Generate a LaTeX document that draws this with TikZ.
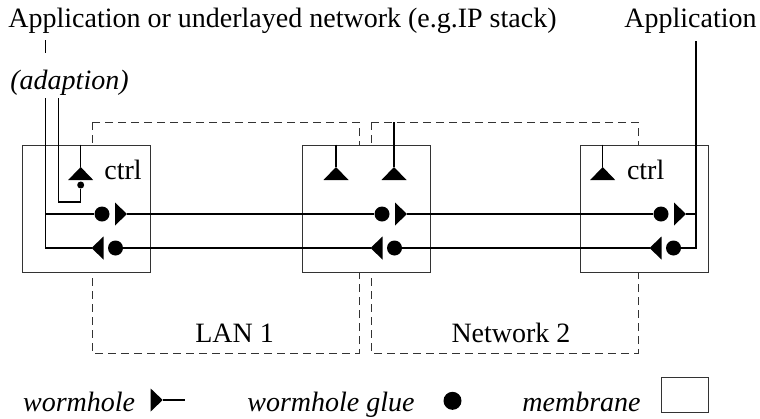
\documentclass[tikz,border=0pt]{standalone}
\usepackage{fontspec}
\setmainfont{Liberation Serif}
\tikzset{
	membrane/.style={draw=black!80,fill=white,line width=0.5pt,inner sep=0pt,minimum width=64pt,minimum height=63.5pt},
	glue/.style={circle,fill=black,inner sep=0pt,minimum size=7.5pt},
	net/.style={draw=black!80,line width=0.5pt,dash pattern=on 4pt off 2.5pt},
	wire/.style={line width=0.6pt},
	txt/.style={inner sep=0pt,font=\fontsize{14}{16}\selectfont}
}
\newcommand{\wormR}[1]{\fill (#1) -- ++(-6pt,5.75pt) -- ++(0pt,-11.5pt) -- cycle;}
\newcommand{\wormL}[1]{\fill (#1) -- ++(6pt,5.75pt) -- ++(0pt,-11.5pt) -- cycle;}
\newcommand{\wormU}[1]{\fill (#1) -- ++(6.25pt,6.5pt) -- ++(-12.5pt,0pt) -- cycle;}

\begin{document}
\begin{tikzpicture}[yscale=-1]
			\useasboundingbox (0pt,0pt) rectangle (380pt,209pt);
			\draw[net] (46pt,61pt) rectangle (179.5pt,176.5pt);
			\draw[net] (185.5pt,61pt) rectangle (319pt,176.5pt);
			\node[membrane] (memL) at (43pt,104.25pt) {};
			\node[membrane] (memM) at (183pt,104.25pt) {};
			\node[membrane] (memR) at (322pt,104.25pt) {};
			\node[txt,anchor=base west] (appL) at (4pt,13.5pt) {Application or underlayed network (e.g.IP stack)};
			\node[txt,anchor=base east] (appR) at (378.5pt,13.5pt) {Application};
			\node[txt,anchor=base west] (adapt) at (5pt,44.5pt) {\itshape (adaption)};
			\node[txt,anchor=base west] (ctrlL) at (52pt,89.5pt) {ctrl};
			\node[txt,anchor=base west] (ctrlR) at (313.3pt,89.5pt) {ctrl};
			\node[txt,anchor=base] (lan) at (117.3pt,171pt) {LAN 1};
			\node[txt,anchor=base] (net2) at (255.5pt,171pt) {Network 2};
			\node[glue] (gLt) at (51pt,107pt) {};
			\node[glue] (gMt) at (191pt,107pt) {};
			\node[glue] (gRt) at (330.5pt,107pt) {};
			\node[glue] (gLb) at (57.75pt,124pt) {};
			\node[glue] (gMb) at (197.25pt,124pt) {};
			\node[glue] (gRb) at (336.75pt,124pt) {};
			\node[glue,minimum size=3.5pt] (gC) at (40.35pt,92.5pt) {};
			\coordinate (wLt) at (63.5pt,107pt);
			\coordinate (wMt) at (203.5pt,107pt);
			\coordinate (wRt) at (343pt,107pt);
			\coordinate (wLb) at (45.75pt,124pt);
			\coordinate (wMb) at (185.25pt,124pt);
			\coordinate (wRb) at (324.75pt,124pt);
			\coordinate (cL) at (40.35pt,83.5pt);
			\coordinate (cM1) at (168pt,83.5pt);
			\coordinate (cM2) at (197pt,83.5pt);
			\coordinate (cR) at (301.35pt,83.5pt);
			\coordinate (tapM) at (197pt,61pt);
			\coordinate (busA) at (22.85pt,20pt);
			\coordinate (busB) at (22.85pt,26.5pt);
			\coordinate (busL) at (22.85pt,49pt);
			\coordinate (adL) at (29.15pt,49pt);
			\coordinate (adK) at (40.35pt,101pt);
			\coordinate (busR) at (348pt,20.5pt);
			\draw[wire] (busA) -- (busB);
			\draw[wire] (busL) |- (wLb);
			\draw[wire] (busL |- gLt) -- (gLt);
			\draw[wire] (adL) |- (adK) -- (gC);
			\draw[wire] (cL |- memL.north) -- (cL);
			\draw[wire] (cM1 |- memM.north) -- (cM1);
			\draw[wire] (tapM) -- (cM2);
			\draw[wire] (cR |- memR.north) -- (cR);
			\draw[wire] (wLt) -- (gMt);
			\draw[wire] (wMt) -- (gRt);
			\draw[wire] (gLb) -- (wMb);
			\draw[wire] (gMb) -- (wRb);
			\draw[wire] (busR) |- (gRb);
			\draw[wire] (wRt) -- (wRt -| busR);
			\wormR{wLt}
			\wormR{wMt}
			\wormR{wRt}
			\wormL{wLb}
			\wormL{wMb}
			\wormL{wRb}
			\wormU{cL}
			\wormU{cM1}
			\wormU{cM2}
			\wormU{cR}
			\node[txt,anchor=base west] (lgW) at (11.35pt,205.5pt) {\itshape wormhole};
			\coordinate (lgWa) at (81.35pt,200pt);
			\coordinate (lgWe) at (92.5pt,200pt);
			\draw[wire] (lgWa) -- (lgWe);
			\wormR{lgWa}
			\node[txt,anchor=base west] (lgG) at (123.5pt,205.5pt) {\itshape wormhole glue};
			\node[glue,minimum size=9pt] (lgGd) at (226.25pt,200.4pt) {};
			\node[txt,anchor=base west] (lgM) at (261pt,205.5pt) {\itshape membrane};
			\node[membrane,minimum width=23.5pt,minimum height=17.5pt] (lgMb) at (342.25pt,197.25pt) {};
		\end{tikzpicture}
\end{document}
